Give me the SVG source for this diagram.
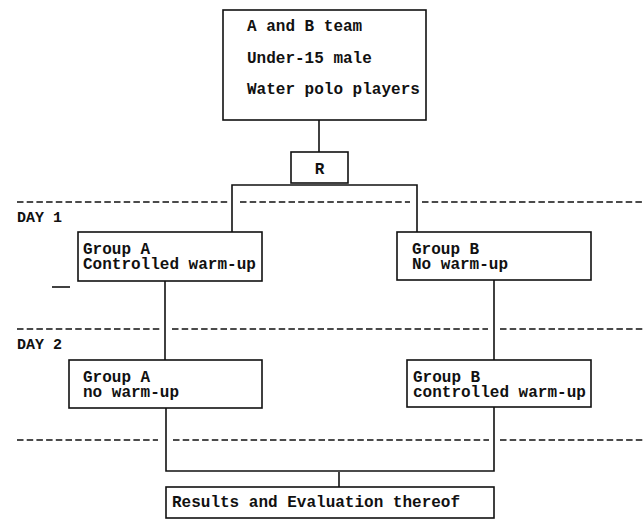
<svg xmlns="http://www.w3.org/2000/svg" width="643" height="519" viewBox="0 0 643 519">
<style>
.box{fill:#fff;stroke:#111;stroke-width:1.6}
.t{font-family:"Liberation Mono","Courier New",monospace;font-weight:bold;font-size:16px;fill:#111}
.day{font-family:"Liberation Mono","Courier New",monospace;font-weight:bold;font-size:15px;fill:#111}
.ln{stroke:#111;stroke-width:1.6;fill:none}
.dash{stroke:#111;stroke-width:1.6;fill:none;stroke-dasharray:6.5 3.2}
</style>
<rect width="643" height="519" fill="#fff"/>
<g id="separators">
<line class="dash" x1="17" y1="202" x2="228" y2="202"/>
<line class="dash" x1="240" y1="202" x2="410" y2="202"/>
<line class="dash" x1="422" y1="202" x2="643" y2="202"/>
<line class="dash" x1="17" y1="329" x2="161" y2="329"/>
<line class="dash" x1="172" y1="329" x2="488" y2="329"/>
<line class="dash" x1="500" y1="329" x2="643" y2="329"/>
<line class="dash" x1="17" y1="440" x2="158" y2="440"/>
<line class="dash" x1="173" y1="440" x2="489" y2="440"/>
<line class="dash" x1="500" y1="440" x2="643" y2="440"/>
<text class="day" x="17" y="222">DAY 1</text>
<text class="day" x="17" y="349">DAY 2</text>
<line class="ln" x1="52" y1="287" x2="70" y2="287"/>
</g>
<g id="connectors">
<line class="ln" x1="319" y1="120" x2="319" y2="152"/>
<polyline class="ln" points="232,232 232,185 417,185 417,232"/>
<line class="ln" x1="165" y1="281" x2="165" y2="360"/>
<line class="ln" x1="494" y1="280" x2="494" y2="360"/>
<polyline class="ln" points="166,408 166,471 494,471 494,407"/>
<line class="ln" x1="339" y1="472" x2="339" y2="487"/>
</g>
<g id="population">
<rect class="box" x="223" y="10" width="203" height="110"/>
<text class="t" x="247" y="31">A and B team</text>
<text class="t" x="247" y="63">Under-15 male</text>
<text class="t" x="247" y="94">Water polo players</text>
</g>
<g id="randomization">
<rect class="box" x="291" y="152" width="57" height="31"/>
<text class="t" x="319.5" y="174" text-anchor="middle">R</text>
</g>
<g id="day1-groupA">
<rect class="box" x="78" y="232" width="184" height="49"/>
<text class="t" x="83" y="254">Group A</text>
<text class="t" x="83" y="269">Controlled warm-up</text>
</g>
<g id="day1-groupB">
<rect class="box" x="397" y="232" width="194" height="48"/>
<text class="t" x="412" y="254">Group B</text>
<text class="t" x="412" y="269">No warm-up</text>
</g>
<g id="day2-groupA">
<rect class="box" x="69" y="360" width="193" height="48"/>
<text class="t" x="83" y="382">Group A</text>
<text class="t" x="83" y="397">no warm-up</text>
</g>
<g id="day2-groupB">
<rect class="box" x="407" y="360" width="184" height="47"/>
<text class="t" x="413" y="382">Group B</text>
<text class="t" x="413" y="397">controlled warm-up</text>
</g>
<g id="results">
<rect class="box" x="166" y="487" width="328" height="31"/>
<text class="t" x="172" y="507">Results and Evaluation thereof</text>
</g>
</svg>
